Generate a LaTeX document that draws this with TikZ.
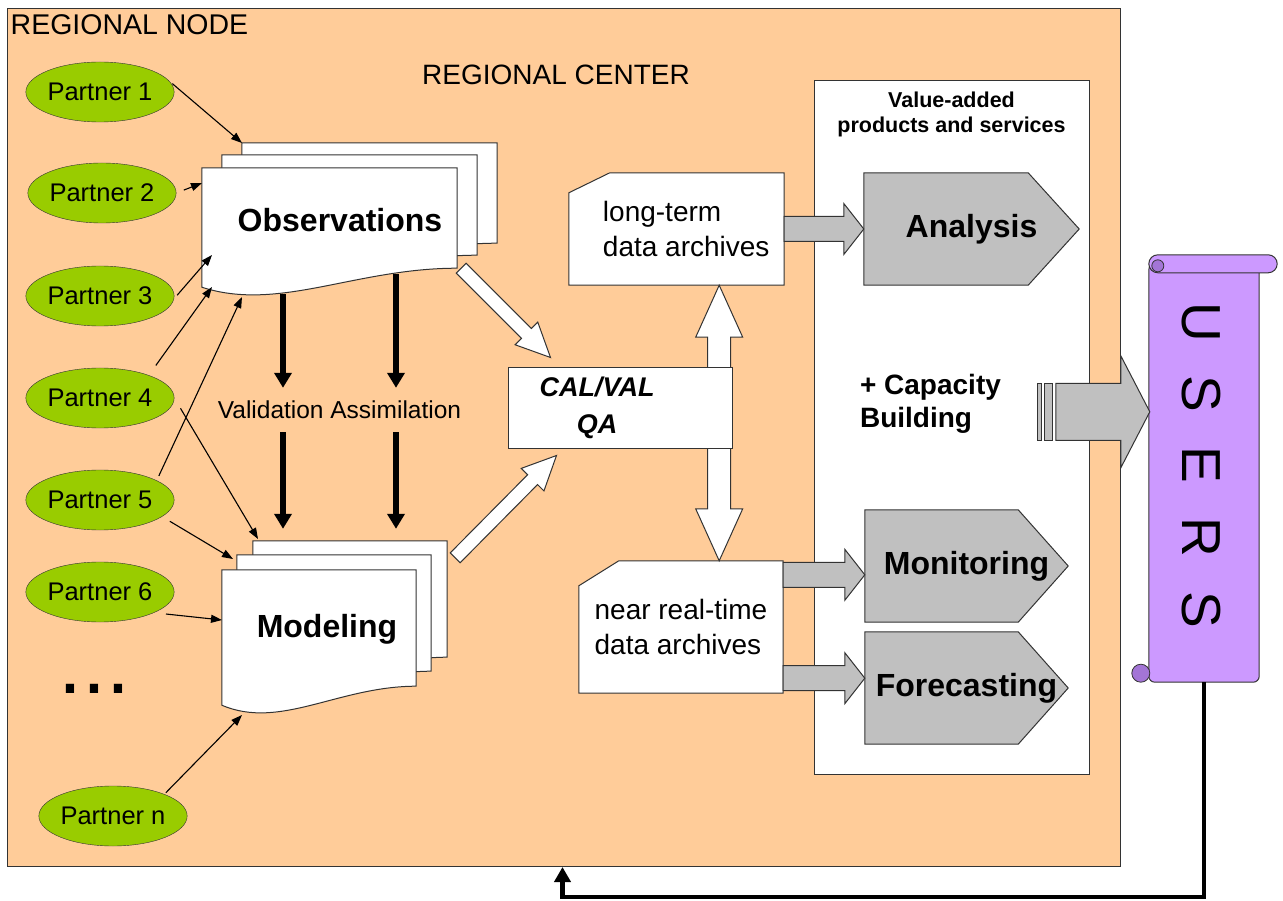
\documentclass[tikz,border=0pt]{standalone}
\usepackage{fontspec}
\setmainfont{Liberation Sans}
\usetikzlibrary{shapes.geometric,arrows.meta,calc}
\pgfdeclarelayer{bg}
\pgfdeclarelayer{mid}
\pgfsetlayers{bg,mid,main}
\definecolor{peach}{HTML}{FFCC99}
\definecolor{pgreen}{HTML}{99CC00}
\definecolor{pgray}{HTML}{C0C0C0}
\definecolor{lav}{HTML}{CC99FF}
\definecolor{lavdark}{HTML}{A375D6}
\definecolor{edge}{HTML}{333333}
\newcommand\docsheet[3]{%
	\draw[sheet] ($(#1.north west)+(#2,#3)$) -- ($(#1.north east)+(#2,#3)$)
		-- ($(#1.south east)+(#2,#3-19)$)
		.. controls ($(#1.south east)!0.4!(#1.south west)+(#2,#3-19)$)
		and ($(#1.south west)!0.3!(#1.south east)+(#2,#3+25)$)
		.. ($(#1.south west)+(#2,#3)$) -- cycle;}
\newcommand\blockarrow[6]{%
	\coordinate (bahead) at ($(#3)!#6!(#2)$);
	\draw[#1] ($(#2)!#4!90:(#3)$) -- ($(bahead)!#4!90:(#3)$) -- ($(bahead)!#5!90:(#3)$) -- (#3)
		-- ($(bahead)!#5!-90:(#3)$) -- ($(bahead)!#4!-90:(#3)$) -- ($(#2)!#4!-90:(#3)$) -- cycle;}
\newcommand\homeplate[2]{%
	\draw[pent] (#1.north west) -- ($(#1.north east)+(-#2,0)$) -- (#1.east)
		-- ($(#1.south east)+(-#2,0)$) -- (#1.south west) -- cycle;}
\begin{document}
\begin{tikzpicture}[x=1pt,y=-1pt]
\tikzstyle{partner}=[draw=edge, fill=pgreen, ellipse, minimum width=124pt, minimum height=60pt, inner sep=0pt, font=\fontsize{25.5}{30}\selectfont]
\tikzstyle{sheet}=[draw=edge, fill=white, line width=1pt]
\tikzstyle{card}=[draw=edge, fill=white, line width=1pt]
\tikzstyle{pent}=[draw=edge, fill=pgray, line width=1pt]
\tikzstyle{docfont}=[font=\fontsize{32}{38}\selectfont\bfseries]
\tikzstyle{archive}=[minimum width=215pt, minimum height=112pt, inner sep=0pt, align=left, font=\fontsize{28}{34.5}\selectfont]
\tikzstyle{home}=[minimum height=112pt, inner sep=0pt, font=\fontsize{32}{38}\selectfont\bfseries]
\tikzstyle{whitearrow}=[draw=edge, fill=white, line width=1pt]
\tikzstyle{grayarrow}=[draw=edge, fill=pgray, line width=1pt]
\tikzstyle{feed}=[draw=black, line width=1.1pt, -{Triangle[length=11pt,width=8pt]}]
\tikzstyle{heavy}=[draw=black, line width=5.5pt, -{Triangle[length=15pt,width=17pt]}]
\tikzstyle{scroll}=[draw=edge, fill=lav, line width=1pt]
\useasboundingbox (0,0) rectangle (1283,901);

\begin{pgfonlayer}{bg}
\node[draw=edge, fill=peach, line width=1pt, minimum width=1113pt, minimum height=858pt] (region) at (563.5,437.5) {};
\node[draw=edge, fill=white, line width=1pt, minimum width=275pt, minimum height=693pt] (prod) at (951.5,427.5) {};
\end{pgfonlayer}

\node[anchor=north west, inner xsep=4pt, inner ysep=6pt, font=\fontsize{28.5}{32}\selectfont] (rnode) at (region.north west) {REGIONAL NODE};
\node[font=\fontsize{28}{32}\selectfont] (rcenter) at (556,75) {REGIONAL CENTER};

\node[partner] (p1) at (100,92) {Partner 1};
\node[partner] (p2) at (102,193) {Partner 2};
\node[partner] (p3) at (100,296) {Partner 3};
\node[partner] (p4) at (100,398) {Partner 4};
\node[partner] (p5) at (100,500) {Partner 5};
\node[partner] (p6) at (100,592) {Partner 6};
\node[partner] (pn) at (113,816) {Partner n};
\node[inner sep=0pt, font=\fontsize{86}{90}\selectfont] (dots) at (94.5,688.5) {...};

\node[minimum width=255pt, minimum height=119pt] (obs) at (329.5,227.5) {};
\node[docfont] (obstxt) at ($(obs)+(10.5,-7.5)$) {Observations};
\node[minimum width=194pt, minimum height=135pt] (mod) at (319,637.5) {};
\node[docfont] (modtxt) at ($(mod)+(8,-8.5)$) {Modeling};
\node[inner xsep=0pt, inner ysep=13pt, font=\fontsize{24.5}{29}\selectfont] (val) at (339.5,410) {Validation Assimilation};

\node[archive] (lt) at (676.5,229) {\hspace*{19.5pt}long-term\\\hspace*{19.5pt}data archives};
\node[archive, minimum width=204pt, minimum height=132pt] (nr) at (681,627) {near real-time\\data archives};
\node[draw=edge, fill=white, line width=1pt, minimum width=224pt, minimum height=80pt, inner sep=0pt, align=center, font=\fontsize{27}{37}\selectfont\bfseries\itshape] (cal) at (620,408) {CAL/VAL\rule{46pt}{0pt}\\QA\rule{46pt}{0pt}};

\node[align=center, font=\fontsize{21.5}{25}\selectfont\bfseries] (vadd) at (951.5,114.5) {Value-added\\products and services};
\node[align=left, font=\fontsize{28}{33}\selectfont\bfseries] (capb) at (930.5,403.5) {+ Capacity\\Building};
\node[home, minimum width=215pt] (ana) at (971.5,229) {Analysis};
\node[home, minimum width=203pt] (mon) at (966.5,566) {Monitoring};
\node[home, minimum width=203pt] (fc) at (966.5,688) {Forecasting};

\node[minimum width=110pt, minimum height=418pt] (usr) at (1204,473) {};
\node[rotate=-90, font=\fontsize{55}{60}\selectfont] (usrtxt) at (1201,465) {U\hspace{34pt}S\hspace{34pt}E\hspace{34pt}R\hspace{34pt}S};

\begin{pgfonlayer}{mid}
\docsheet{obs}{40}{-25}
\docsheet{obs}{20}{-13}
\docsheet{obs}{0}{0}
\docsheet{mod}{31}{-29}
\docsheet{mod}{15}{-15}
\docsheet{mod}{0}{0}
\draw[card] ($(lt.north west)+(0,20)$) -- ($(lt.north west)+(41,0)$) -- (lt.north east) -- (lt.south east) -- (lt.south west) -- cycle;
\draw[card] ($(nr.north west)+(0,25)$) -- ($(nr.north west)+(40,0)$) -- (nr.north east) -- (nr.south east) -- (nr.south west) -- cycle;
\homeplate{ana}{51}
\homeplate{mon}{50}
\homeplate{fc}{50}

\coordinate (oc0) at ($(obs.south east)+(4,-19)$);
\coordinate (oc1) at ($(cal.north west)+(43,-10)$);
\coordinate (mc0) at ($(mod.north east)+(39,-12)$);
\coordinate (mc1) at ($(cal.south west)+(49,7)$);
\coordinate (d1) at ($(lt.south east)+(-65,0)$);
\coordinate (d2) at (d1 |- nr.north);
\coordinate (dm) at ($(d1)!0.5!(d2)$);
\blockarrow{whitearrow}{oc0}{oc1}{7pt}{16pt}{34pt}
\blockarrow{whitearrow}{mc0}{mc1}{7pt}{16pt}{34pt}
\blockarrow{whitearrow}{dm}{d1}{11.5pt}{23.5pt}{52pt}
\blockarrow{whitearrow}{dm}{d2}{11.5pt}{23.5pt}{52pt}

\coordinate (b0) at ($(nr.north east)+(0,14)$);
\coordinate (b1) at (mon.west |- b0);
\coordinate (c0) at ($(nr.south east)+(0,-15)$);
\coordinate (c1) at (fc.west |- c0);
\blockarrow{grayarrow}{lt.east}{ana.west}{12.5pt}{25.5pt}{20pt}
\blockarrow{grayarrow}{b0}{b1}{12.5pt}{25.5pt}{20pt}
\blockarrow{grayarrow}{c0}{c1}{12.5pt}{25.5pt}{20pt}

\draw[scroll, rounded corners=6pt] (usr.north west) rectangle (usr.south east);
\draw[scroll, rounded corners=9pt] ($(usr.north west)+(0,-9)$) rectangle ($(usr.north east)+(18,9)$);
\draw[draw=edge, fill=lavdark, line width=0.8pt] ($(usr.north west)+(9,2)$) circle[radius=6pt];
\draw[draw=edge, fill=lavdark, line width=0.8pt] ($(usr.south west)+(-8,-9)$) circle[radius=9pt];

\coordinate (s1) at ($(usr.north west)+(1,148)$);
\coordinate (s0) at ($(s1)+(-94,0)$);
\blockarrow{grayarrow}{s0}{s1}{28.5pt}{56pt}{29pt}
\draw[grayarrow] ($(s0)+(-18,-28.5)$) rectangle ($(s0)+(-14,28.5)$);
\draw[grayarrow] ($(s0)+(-11,-28.5)$) rectangle ($(s0)+(-3,28.5)$);
\end{pgfonlayer}

\coordinate (o1) at (242,143);
\coordinate (o2) at (202,183);
\coordinate (o3) at (212,255);
\coordinate (o4) at (212,287);
\coordinate (o5) at (242,297);
\coordinate (m4) at (258,539);
\coordinate (m5) at (233,559);
\coordinate (m6) at (222,620);
\coordinate (mn) at (242,715);
\draw[feed, shorten <=4pt] (p1.9) -- (o1);
\draw[feed, shorten <=8pt] (p2.east) -- (o2);
\draw[feed, shorten <=23pt] (p3.-15) -- (o3);
\draw[feed, shorten <=12pt] (p4.25) -- (o4);
\draw[feed, shorten <=12pt] (p4.east) -- (m4);
\draw[feed, shorten <=5pt] (p5.19) -- (o5);
\draw[feed, shorten <=9pt] (p5.-15) -- (m5);
\draw[feed, shorten <=12pt] (p6.-21) -- (m6);
\draw[feed, shorten <=2pt] (pn.23) -- (mn);

\coordinate (v1) at (283,294);
\coordinate (v2) at (396,274);
\draw[heavy] (v1) -- (v1 |- val.north);
\draw[heavy] (v2) -- (v2 |- val.north);
\draw[heavy, shorten >=41pt] (v1 |- val.south) -- (v1 |- mod.north);
\draw[heavy, shorten >=41pt] (v2 |- val.south) -- (v2 |- mod.north);

\coordinate (fb) at ($(region.south west)+(556,0)$);
\draw[draw=black, line width=4.5pt, -{Triangle[length=15pt,width=16pt]}] (usr.south) -- ++(0,215) -| (fb);
\end{tikzpicture}
\end{document}
